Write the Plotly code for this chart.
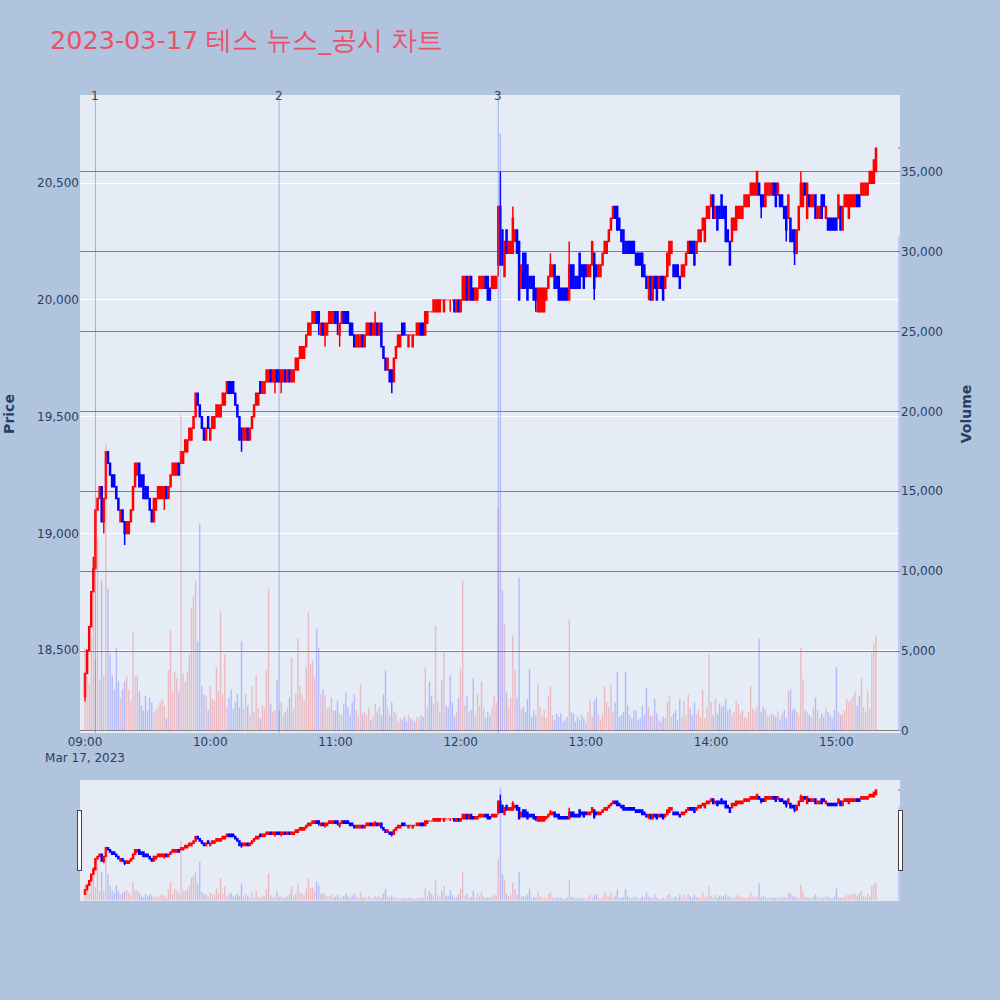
import pandas as pd
import plotly.graph_objects as go

# ---------------- data (1-minute candles, 09:00 .. 15:19, plus 15:30 close) ----------------
opens = [
    18300, 18400, 18500, 18600, 18750, 18850, 19100, 19150, 19200, 19050,
    19150, 19350, 19300, 19250, 19250, 19200, 19150, 19050, 19100, 19050,
    19000, 19000, 19050, 19100, 19200, 19250, 19300, 19250, 19250, 19200,
    19200, 19150, 19100, 19050, 19100, 19150, 19150, 19150, 19150, 19200,
    19150, 19200, 19250, 19250, 19250, 19300, 19300, 19300, 19350, 19350,
    19400, 19400, 19450, 19500, 19600, 19550, 19500, 19450, 19400, 19500,
    19400, 19450, 19450, 19500, 19500, 19500, 19550, 19550, 19600, 19650,
    19650, 19650, 19600, 19550, 19500, 19450, 19400, 19400, 19450, 19400,
    19450, 19500, 19550, 19550, 19650, 19600, 19600, 19650, 19650, 19700,
    19650, 19650, 19700, 19700, 19650, 19650, 19700, 19650, 19700, 19650,
    19650, 19700, 19700, 19750, 19750, 19750, 19800, 19850, 19850, 19900,
    19900, 19950, 19950, 19850, 19900, 19850, 19850, 19900, 19900, 19900,
    19950, 19950, 19850, 19900, 19950, 19950, 19950, 19900, 19900, 19850,
    19800, 19800, 19800, 19850, 19800, 19850, 19850, 19900, 19850, 19850,
    19900, 19850, 19900, 19800, 19750, 19700, 19700, 19700, 19650, 19750,
    19800, 19800, 19900, 19900, 19850, 19800, 19850, 19800, 19850, 19850,
    19850, 19900, 19900, 19850, 19900, 19950, 19950, 19950, 19950, 19950,
    19950, 20000, 19950, 20000, 20000, 20000, 20000, 20000, 19950, 20000,
    19950, 20000, 20000, 20100, 20000, 20100, 20050, 20000, 20000, 20050,
    20050, 20050, 20100, 20100, 20050, 20050, 20050, 20050, 20150, 20400,
    20300, 20100, 20300, 20200, 20200, 20200, 20250, 20300, 20250, 20050,
    20200, 20200, 20150, 20100, 20100, 20100, 20050, 19950, 19950, 19950,
    19950, 20000, 20050, 20100, 20100, 20150, 20100, 20100, 20050, 20050,
    20050, 20050, 20000, 20150, 20150, 20100, 20100, 20200, 20150, 20150,
    20150, 20100, 20100, 20150, 20200, 20150, 20100, 20100, 20150, 20200,
    20200, 20250, 20300, 20350, 20400, 20400, 20350, 20300, 20300, 20250,
    20250, 20250, 20250, 20250, 20200, 20200, 20200, 20200, 20150, 20100,
    20050, 20100, 20000, 20100, 20100, 20050, 20100, 20100, 20050, 20100,
    20150, 20200, 20150, 20150, 20150, 20100, 20100, 20100, 20150, 20200,
    20250, 20250, 20250, 20200, 20250, 20250, 20300, 20250, 20350, 20350,
    20400, 20450, 20350, 20400, 20400, 20450, 20400, 20400, 20300, 20250,
    20250, 20300, 20300, 20350, 20350, 20350, 20400, 20400, 20400, 20450,
    20450, 20450, 20450, 20500, 20450, 20450, 20400, 20450, 20450, 20450,
    20500, 20500, 20450, 20450, 20450, 20400, 20400, 20350, 20350, 20300,
    20300, 20200, 20300, 20400, 20400, 20500, 20350, 20450, 20400, 20400,
    20450, 20350, 20350, 20450, 20450, 20350, 20350, 20350, 20350, 20350,
    20350, 20350, 20400, 20300, 20400, 20400, 20350, 20400, 20400, 20400,
    20450, 20450, 20450, 20450, 20450, 20450, 20500, 20500, 20500, 20550,
    20650,
]
closes = [
    18400, 18500, 18600, 18750, 18850, 19100, 19150, 19200, 19050, 19150,
    19350, 19300, 19250, 19200, 19200, 19150, 19100, 19100, 19050, 19000,
    19050, 19050, 19100, 19200, 19300, 19300, 19200, 19200, 19150, 19150,
    19150, 19100, 19050, 19150, 19150, 19200, 19200, 19200, 19200, 19150,
    19200, 19250, 19300, 19300, 19300, 19250, 19350, 19350, 19400, 19400,
    19450, 19450, 19500, 19600, 19550, 19500, 19450, 19400, 19450, 19450,
    19450, 19500, 19500, 19550, 19550, 19550, 19600, 19600, 19650, 19600,
    19600, 19600, 19550, 19500, 19400, 19400, 19450, 19450, 19400, 19450,
    19500, 19550, 19600, 19600, 19600, 19650, 19650, 19700, 19700, 19650,
    19700, 19700, 19650, 19650, 19700, 19700, 19650, 19700, 19650, 19700,
    19700, 19750, 19750, 19800, 19800, 19800, 19850, 19900, 19900, 19950,
    19950, 19900, 19900, 19900, 19850, 19900, 19900, 19950, 19950, 19950,
    19900, 19900, 19900, 19950, 19900, 19900, 19900, 19850, 19850, 19800,
    19850, 19850, 19850, 19800, 19850, 19900, 19900, 19850, 19900, 19900,
    19850, 19900, 19800, 19750, 19700, 19750, 19650, 19650, 19750, 19800,
    19850, 19850, 19850, 19850, 19850, 19850, 19850, 19850, 19850, 19900,
    19900, 19850, 19850, 19950, 19950, 19950, 19950, 20000, 20000, 20000,
    20000, 20000, 20000, 20000, 20000, 20000, 20000, 19950, 20000, 19950,
    20000, 20100, 20100, 20000, 20100, 20000, 20000, 20050, 20050, 20100,
    20100, 20100, 20050, 20000, 20000, 20100, 20100, 20100, 20400, 20150,
    20150, 20250, 20200, 20250, 20250, 20350, 20300, 20200, 20000, 20150,
    20050, 20050, 20000, 20050, 20050, 20000, 20000, 20050, 20050, 20050,
    20050, 20050, 20100, 20150, 20150, 20050, 20050, 20000, 20000, 20000,
    20000, 20000, 20150, 20050, 20050, 20050, 20050, 20050, 20100, 20050,
    20100, 20150, 20150, 20250, 20050, 20100, 20150, 20150, 20200, 20250,
    20250, 20300, 20350, 20400, 20350, 20300, 20300, 20250, 20200, 20200,
    20200, 20200, 20200, 20200, 20150, 20150, 20150, 20100, 20100, 20050,
    20100, 20000, 20100, 20050, 20000, 20100, 20050, 20000, 20100, 20200,
    20250, 20250, 20100, 20100, 20100, 20050, 20150, 20150, 20200, 20250,
    20200, 20200, 20150, 20250, 20300, 20300, 20350, 20350, 20400, 20400,
    20450, 20350, 20400, 20300, 20350, 20350, 20350, 20250, 20250, 20150,
    20350, 20350, 20400, 20400, 20400, 20400, 20450, 20450, 20450, 20500,
    20500, 20500, 20550, 20450, 20400, 20400, 20500, 20500, 20500, 20500,
    20450, 20400, 20500, 20400, 20400, 20350, 20300, 20450, 20250, 20250,
    20200, 20300, 20400, 20500, 20500, 20450, 20500, 20400, 20450, 20450,
    20350, 20400, 20400, 20350, 20400, 20400, 20300, 20300, 20300, 20300,
    20300, 20450, 20300, 20400, 20450, 20450, 20450, 20450, 20450, 20450,
    20400, 20400, 20500, 20500, 20500, 20500, 20550, 20550, 20600, 20650,
    20650,
]
# wicks that reach beyond the candle body (key = list position)
upper_wicks = {4: 18900, 139: 19950, 199: 20550, 205: 20400, 223: 20200, 232: 20250, 343: 20550}
lower_wicks = {0: 18280, 9: 19000, 19: 18950, 38: 19100, 75: 19350, 91: 19600, 94: 19600,
               112: 19850, 115: 19800, 121: 19850, 122: 19800, 147: 19600, 175: 19950,
               198: 20100, 216: 19950, 244: 20000, 270: 20000, 324: 20350, 336: 20250, 340: 20150}
volumes = [
    5200, 3400, 3000, 6000, 8700, 4500, 12100, 3200, 9400, 3500,
    18000, 8900, 4800, 3500, 2600, 5200, 3100, 2100, 2600, 3100,
    3400, 2600, 1900, 6200, 3400, 3500, 2500, 1600, 1300, 2200,
    1300, 2100, 1800, 1200, 1300, 1500, 1800, 2000, 1600, 800,
    3800, 6300, 2400, 3700, 3300, 2500, 19800, 3600, 3100, 3700,
    4800, 7700, 8400, 9400, 5600, 13000, 2800, 2300, 2200, 1300,
    2800, 2000, 1900, 4000, 2500, 7500, 2300, 4800, 1500, 2100,
    2600, 1400, 1800, 2300, 1500, 5600, 1400, 2300, 1600, 1000,
    2800, 1200, 3500, 1400, 800, 1600, 1400, 3800, 8900, 1700,
    1200, 1300, 3200, 1300, 1800, 1000, 1200, 1500, 2100, 4600,
    1400, 2300, 5800, 2800, 2300, 1900, 4000, 7400, 4200, 4400,
    3300, 6400, 5200, 2300, 2600, 2200, 1400, 1500, 2100, 1300,
    1300, 1900, 1100, 1000, 1700, 2400, 1500, 1000, 1800, 2300,
    1300, 900, 2900, 1100, 1200, 1000, 1500, 700, 900, 1700,
    1200, 1500, 1000, 2300, 3800, 1400, 1000, 1800, 1200, 1100,
    600, 800, 700, 900, 600, 1000, 800, 700, 600, 900,
    800, 1000, 900, 4000, 1500, 3100, 2200, 1700, 6600, 1800,
    1200, 3200, 5000, 1600, 1500, 3500, 1800, 900, 1200, 2100,
    3900, 9400, 1600, 2200, 1200, 1300, 3300, 1000, 2300, 1600,
    3100, 1400, 800, 1200, 1000, 1500, 2200, 1800, 13900, 37400,
    8800, 6700, 2400, 1500, 2100, 6000, 3800, 2100, 9600, 1400,
    1500, 1200, 2000, 3900, 900, 1300, 1000, 2900, 1500, 1000,
    1300, 800, 2200, 2800, 1000, 700, 1100, 900, 1100, 600,
    700, 900, 7000, 1200, 1100, 600, 900, 700, 1000, 800,
    500, 1200, 2000, 900, 1900, 2100, 1000, 700, 1100, 2800,
    1800, 1500, 2900, 1200, 1800, 3700, 900, 1000, 1200, 3700,
    1600, 1000, 800, 1300, 1300, 700, 800, 1600, 1000, 2700,
    1500, 900, 1000, 2000, 1100, 700, 600, 900, 800, 1800,
    2200, 900, 1100, 1300, 700, 2000, 900, 1900, 1000, 2300,
    1400, 1000, 1800, 1100, 1300, 900, 2600, 800, 1500, 4800,
    1800, 1000, 2000, 1100, 1700, 1500, 1600, 2000, 1300, 1400,
    1000, 1200, 1900, 1700, 1100, 1300, 900, 800, 1200, 2800,
    1400, 1300, 1500, 5800, 1200, 1500, 1300, 900, 1000, 1100,
    1000, 900, 1200, 700, 1100, 1300, 800, 2500, 2600, 1300,
    1400, 1200, 1000, 5200, 3200, 1300, 1200, 1000, 900, 1500,
    2100, 1300, 800, 1100, 900, 1500, 1200, 1000, 800, 1300,
    4000, 1200, 1000, 1100, 1300, 2000, 1800, 2000, 2200, 2500,
    1600, 2200, 3300, 1500, 1200, 2500, 1400, 4900, 5500, 6000,
    30990,
]
times = list(pd.date_range("2023-03-17 09:00", periods=380, freq="min")) + [pd.Timestamp("2023-03-17 15:30")]

event_times = ["2023-03-17 09:05", "2023-03-17 10:33", "2023-03-17 12:18"]
event_labels = ["1", "2", "3"]

title_text = "2023-03-17 테스 뉴스_공시 차트"

# ---------------- derived ----------------
highs = [upper_wicks.get(i, max(o, c)) for i, (o, c) in enumerate(zip(opens, closes))]
lows = [lower_wicks.get(i, min(o, c)) for i, (o, c) in enumerate(zip(opens, closes))]
vol_colors = ["red" if c > o else "blue" for o, c in zip(opens, closes)]

fig = go.Figure()
fig.add_trace(go.Candlestick(
    x=times, open=opens, high=highs, low=lows, close=closes, name="Price",
    increasing=dict(line=dict(color="red", width=1.5), fillcolor="red"),
    decreasing=dict(line=dict(color="blue", width=1.5), fillcolor="blue"),
    yaxis="y",
))
fig.add_trace(go.Bar(
    x=times, y=volumes, name="Volume", marker=dict(color=vol_colors),
    opacity=0.25, yaxis="y2",
))

for t, lab in zip(event_times, event_labels):
    fig.add_shape(type="line", x0=t, x1=t, xref="x", y0=0, y1=1, yref="paper",
                  line=dict(color="rgba(65,105,225,0.45)", width=1))
    fig.add_annotation(x=t, y=1, xref="x", yref="paper", text=lab, showarrow=False,
                       xanchor="center", yanchor="middle", yshift=-1,
                       font=dict(size=12, color="#444"))

x_range = ["2023-03-17 08:57:36", "2023-03-17 15:30:30"]

fig.update_layout(
    width=1000, height=1000,
    font=dict(family="DejaVu Sans", color="#2a3f5f"),
    paper_bgcolor="lightsteelblue",
    plot_bgcolor="#E5ECF6",
    showlegend=False,
    margin=dict(l=80, r=100, t=95, b=100),
    title=dict(text=title_text, x=0.05, xanchor="left", y=0.96, yanchor="middle",
               font=dict(family="DejaVu Sans", size=25.5, color="rgb(236,80,104)")),
    xaxis=dict(type="date", range=x_range, showgrid=False,
               rangeslider=dict(visible=True, range=x_range)),
    yaxis=dict(title=dict(text="<b>Price</b>", standoff=19), automargin=False,
               range=[18145, 20878], dtick=500,
               tickformat=",", gridcolor="white", zeroline=False),
    yaxis2=dict(title=dict(text="<b>Volume</b>", standoff=19), automargin=False,
                overlaying="y", side="right",
                range=[-132, 39806], dtick=5000, tickformat=",", gridcolor="gray",
                showgrid=True, zeroline=False),
)

fig.write_html(
    "out.html",
    config={"displayModeBar": False},
    post_script="document.body.style.margin='0px';document.body.style.background='lightsteelblue';",
)
